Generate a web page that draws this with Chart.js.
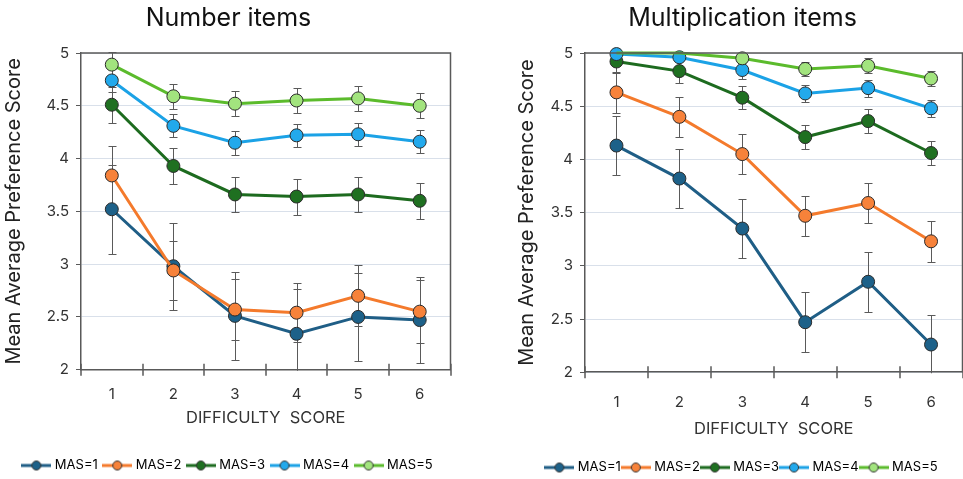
<!DOCTYPE html>
<html>
<head>
<meta charset="utf-8">
<script src="https://cdn.jsdelivr.net/npm/chart.js@4/dist/chart.umd.min.js"></script>
<style>
  html, body { margin: 0; padding: 0; background: #fff; }
  #wrap { position: relative; width: 963px; height: 479px; overflow: hidden; }
  .box { position: absolute; top: 0; }
</style>
</head>
<body>
<div id="wrap">
  <div class="box" style="left:0;width:458px;height:482px"><canvas id="numChart"></canvas></div>
  <div class="box" style="left:505px;width:465px;height:484px"><canvas id="mulChart"></canvas></div>
</div>
<script>
// categories
const difficulty = ["1", "2", "3", "4", "5", "6"];
const seriesNames = ["MAS=1", "MAS=2", "MAS=3", "MAS=4", "MAS=5"];
const yTicks = [2, 2.5, 3, 3.5, 4, 4.5, 5];

// Number items: means
const numMas1 = [3.52, 2.98, 2.51, 2.34, 2.50, 2.47];
const numMas2 = [3.84, 2.94, 2.57, 2.54, 2.70, 2.55];
const numMas3 = [4.51, 3.93, 3.66, 3.64, 3.66, 3.60];
const numMas4 = [4.74, 4.31, 4.15, 4.22, 4.23, 4.16];
const numMas5 = [4.89, 4.59, 4.52, 4.55, 4.57, 4.50];
// Number items: error bar half widths
const numErr1 = [0.42, 0.41, 0.42, 0.42, 0.42, 0.41];
const numErr2 = [0.28, 0.28, 0.29, 0.28, 0.29, 0.30];
const numErr3 = [0.17, 0.17, 0.17, 0.17, 0.17, 0.17];
const numErr4 = [0.11, 0.11, 0.115, 0.11, 0.11, 0.11];
const numErr5 = [0.12, 0.12, 0.12, 0.12, 0.12, 0.12];

// Multiplication items: means
const mulMas1 = [4.13, 3.82, 3.35, 2.47, 2.85, 2.26];
const mulMas2 = [4.63, 4.40, 4.05, 3.47, 3.59, 3.23];
const mulMas3 = [4.92, 4.83, 4.58, 4.21, 4.36, 4.06];
const mulMas4 = [4.99, 4.96, 4.84, 4.62, 4.67, 4.48];
const mulMas5 = [5.00, 5.00, 4.95, 4.85, 4.88, 4.76];
// Multiplication items: error bar half widths
const mulErr1 = [0.28, 0.28, 0.28, 0.28, 0.28, 0.28];
const mulErr2 = [0.19, 0.19, 0.19, 0.19, 0.19, 0.19];
const mulErr3 = [0.11, 0.11, 0.11, 0.11, 0.11, 0.11];
const mulErr4 = [0.08, 0.08, 0.08, 0.08, 0.08, 0.08];
const mulErr5 = [0.07, 0.07, 0.07, 0.07, 0.07, 0.07];

const lineColors = ["#1f5e86", "#f47a2c", "#1d6b1f", "#1ba2e6", "#5bbb2c"];
const markColors = ["#1d6189", "#f7823a", "#1f7021", "#22a9ec", "#a2e47e"];
const FONT = "Inter, 'Noto Sans', sans-serif";
const AXIS = "#595959";

function legendIcon(line, fill) {
  const c = document.createElement("canvas");
  c.width = 30; c.height = 12;
  const g = c.getContext("2d");
  g.strokeStyle = line; g.lineWidth = 3;
  g.beginPath(); g.moveTo(0, 6); g.lineTo(30, 6); g.stroke();
  g.fillStyle = fill; g.strokeStyle = "#333"; g.lineWidth = 1;
  g.beginPath(); g.arc(15, 6, 4.5, 0, Math.PI * 2); g.fill(); g.stroke();
  return c;
}
const icons = lineColors.map((c, i) => legendIcon(c, markColors[i]));

// error bars, plot frame and crossing x ticks, all placed via the chart scales
const extras = {
  id: "extras",
  beforeDatasetsDraw(chart) {
    const { ctx, chartArea: a, scales: { y } } = chart;
    const errs = chart.options.plugins.extras.errors;
    ctx.save();
    ctx.beginPath(); ctx.rect(a.left, a.top - 1, a.right - a.left, a.bottom - a.top + 2); ctx.clip();
    ctx.strokeStyle = "#5a5a5a"; ctx.lineWidth = 1;
    chart.data.datasets.forEach((ds, di) => {
      const meta = chart.getDatasetMeta(di);
      meta.data.forEach((pt, i) => {
        const v = ds.data[i], e = errs[di][i];
        const t = Math.round(y.getPixelForValue(v + e)) + 0.5;
        const b = Math.round(y.getPixelForValue(v - e)) + 0.5;
        const x = Math.round(pt.x) + 0.5;
        ctx.beginPath();
        ctx.moveTo(x, t); ctx.lineTo(x, b);
        ctx.moveTo(x - 4, t); ctx.lineTo(x + 4, t);
        ctx.moveTo(x - 4, b); ctx.lineTo(x + 4, b);
        ctx.stroke();
      });
    });
    ctx.restore();
  },
  afterDraw(chart) {
    const { ctx, chartArea: a, scales: { x } } = chart;
    ctx.save();
    ctx.strokeStyle = AXIS; ctx.lineWidth = 1.5;
    ctx.beginPath();
    ctx.moveTo(a.left, a.top); ctx.lineTo(a.right, a.top); ctx.lineTo(a.right, a.bottom);
    for (let i = 0; i <= difficulty.length; i++) {
      const px = Math.round(x.getPixelForValue(i - 0.5));
      ctx.moveTo(px, a.bottom - 6); ctx.lineTo(px, a.bottom + 6);
    }
    ctx.stroke();
    ctx.restore();
  }
};

function makeChart(id, title, series, errors, opt) {
  const datasets = series.map((data, i) => ({
    label: seriesNames[i],
    data,
    borderColor: lineColors[i],
    backgroundColor: markColors[i],
    borderWidth: 3,
    pointRadius: opt.radii && opt.radii[i] ? opt.radii[i] : 6.5,
    pointHoverRadius: 6.5,
    pointBackgroundColor: markColors[i],
    pointBorderColor: "#2b2b2b",
    pointBorderWidth: 1,
    order: series.length - i,
    clip: false
  }));
  return new Chart(document.getElementById(id), {
    type: "line",
    data: { labels: difficulty, datasets },
    plugins: [extras],
    options: {
      responsive: true,
      maintainAspectRatio: false,
      animation: false,
      layout: { padding: opt.padding },
      plugins: {
        extras: { errors },
        tooltip: { enabled: false },
        title: {
          display: true, text: title, color: "#111",
          font: { family: FONT, size: 25, weight: "normal" },
          padding: { top: 3, bottom: 20 }
        },
        legend: {
          position: "bottom",
          align: "center",
          labels: {
            usePointStyle: true, pointStyleWidth: 24, boxHeight: 12,
            padding: opt.legendGap, color: "#222",
            font: { family: FONT, size: 13 },
            generateLabels: () => seriesNames.map((t, i) => ({
              text: t, pointStyle: icons[i], fillStyle: markColors[i],
              strokeStyle: lineColors[i], lineWidth: 0, hidden: false, datasetIndex: i
            }))
          },
          onClick: () => {}
        }
      },
      scales: {
        x: {
          offset: true,
          grid: { display: false },
          border: { color: AXIS, width: 1.5 },
          ticks: { color: "#333", padding: opt.xTickPad, font: { family: FONT, size: 15 } },
          title: {
            display: true, text: "DIFFICULTY  SCORE", color: "#333",
            font: { family: FONT, size: 16.5 }, padding: opt.xTitlePad
          }
        },
        y: {
          min: 2, max: 5,
          afterBuildTicks: s => { s.ticks = yTicks.map(v => ({ value: v })); },
          grid: { color: "#d9e0ea", tickColor: AXIS, tickLength: 5, lineWidth: 1 },
          border: { color: AXIS, width: 1.5 },
          ticks: { color: "#333", padding: 7, font: { family: FONT, size: 15 }, callback: v => String(v) },
          title: {
            display: true, text: "Mean Average Preference Score", color: "#222",
            font: { family: FONT, size: 20 }, padding: { top: 0, bottom: opt.yTitleGap }
          }
        }
      }
    }
  });
}

makeChart("numChart", "Number items",
  [numMas1, numMas2, numMas3, numMas4, numMas5],
  [numErr1, numErr2, numErr3, numErr4, numErr5],
  { padding: { left: 2, right: 3, top: 0, bottom: 0 }, legendGap: 7.5,
    xTickPad: 7.5, xTitlePad: { top: -2.6, bottom: 23.6 }, yTitleGap: 13.6 });

makeChart("mulChart", "Multiplication items",
  [mulMas1, mulMas2, mulMas3, mulMas4, mulMas5],
  [mulErr1, mulErr2, mulErr3, mulErr4, mulErr5],
  { padding: { left: 10, right: 0, top: 0, bottom: 0 }, legendGap: 3,
    xTickPad: 13, xTitlePad: { top: -5.1, bottom: 19.1 }, yTitleGap: 4.6,
    radii: [null, null, null, null, [0, 0, 6.5, 6.5, 6.5, 6.5]] });
</script>
</body>
</html>
